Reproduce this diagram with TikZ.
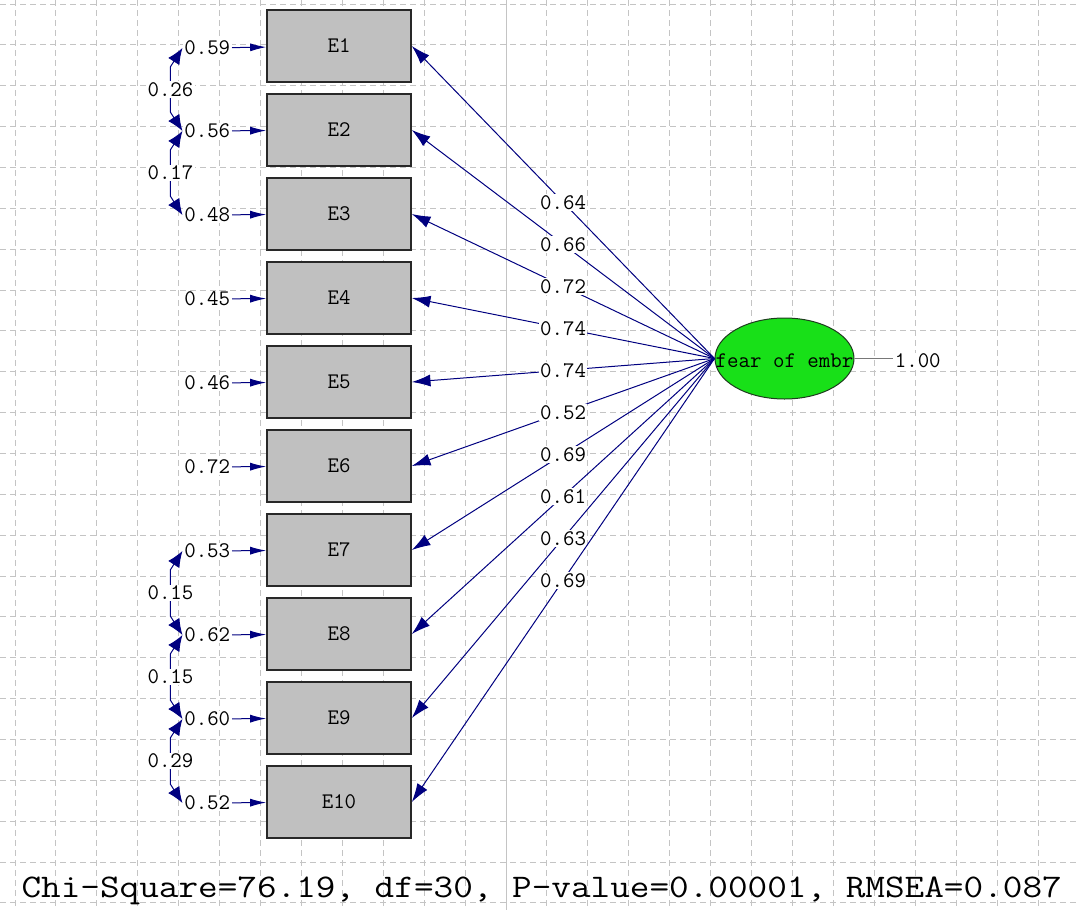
\documentclass[tikz,border=0pt]{standalone}
\usepackage{fontspec}
\usetikzlibrary{shapes.geometric,arrows.meta}

\definecolor{lisnavy}{RGB}{0,0,128}
\definecolor{boxgray}{RGB}{192,192,192}
\definecolor{latgreen}{RGB}{24,224,24}
\definecolor{gridgray}{RGB}{196,196,196}
\newcommand{\lisfont}{\ttfamily\fontsize{16.7}{18}\selectfont}

\tikzset{every picture/.style={line width=0.75pt},
  gridline/.style={draw=gridgray, dash pattern={on 4.5pt off 3pt}},
  obsbox/.style={draw={rgb,255:red,40;green,40;blue,40}, fill=boxgray, line width=1.2pt, minimum width=108pt, minimum height=54pt, inner sep=0pt, font=\lisfont},
  latent/.style={ellipse, draw={rgb,255:red,30;green,60;blue,30}, fill=latgreen, minimum width=104.25pt, minimum height=60.75pt, inner sep=0pt},
  coef/.style={fill=white, inner sep=1pt, font=\lisfont},
  load/.style={draw=lisnavy, -{Latex[length=14pt,width=9pt]}},
  errarr/.style={draw=lisnavy, -{Latex[length=12pt,width=6pt]}},
  covarr/.style={draw=lisnavy, {Latex[length=12pt,width=10pt]}-{Latex[length=12pt,width=10pt]}},
}

\begin{document}
\begin{tikzpicture}[x=0.75pt,y=0.75pt,yscale=-1,xscale=1]
\useasboundingbox (0,0) rectangle (1078,910);
\fill[white] (0,0) rectangle (1078,910);

%Grid
\foreach \k in {0,...,25} \draw[gridline] ({15+40.92*\k},0) -- ({15+40.92*\k},910);
\foreach \k in {0,...,22} \draw[gridline] (0,{4+40.86*\k}) -- (1078,{4+40.86*\k});
\draw[draw=gridgray] (506,0) -- (506,910);

%Observed variables
\node[obsbox] (E1) at (339,46) {E1};
\node[obsbox] (E2) at (339,130) {E2};
\node[obsbox] (E3) at (339,214) {E3};
\node[obsbox] (E4) at (339,298) {E4};
\node[obsbox] (E5) at (339,382) {E5};
\node[obsbox] (E6) at (339,466) {E6};
\node[obsbox] (E7) at (339,550) {E7};
\node[obsbox] (E8) at (339,634) {E8};
\node[obsbox] (E9) at (339,718) {E9};
\node[obsbox] (E10) at (339,802) {E10};

%Latent variable
\node[latent] (fear) at (784.5,358.5) {};
\node[font=\lisfont, inner sep=0pt] (fearname) at (784.5,361) {fear of embr};
\node[coef, anchor=west] (var) at (893,361) {1.00};
\draw[draw={rgb,255:red,120;green,120;blue,120}, line width=0.6pt] (fear.east) -- (fear.east -| var.west);

%Loadings
\draw[load] (fear.west) -- node[coef]{0.64} (E1.east);
\draw[load] (fear.west) -- node[coef]{0.66} (E2.east);
\draw[load] (fear.west) -- node[coef]{0.72} (E3.east);
\draw[load] (fear.west) -- node[coef]{0.74} (E4.east);
\draw[load] (fear.west) -- node[coef]{0.74} (E5.east);
\draw[load] (fear.west) -- node[coef]{0.52} (E6.east);
\draw[load] (fear.west) -- node[coef]{0.69} (E7.east);
\draw[load] (fear.west) -- node[coef]{0.61} (E8.east);
\draw[load] (fear.west) -- node[coef]{0.63} (E9.east);
\draw[load] (fear.west) -- node[coef]{0.69} (E10.east);

%Error variances
\node[coef, anchor=east] (d1) at (232,48) {0.59};
\node[coef, anchor=east] (d2) at (232,131) {0.56};
\node[coef, anchor=east] (d3) at (232,215) {0.48};
\node[coef, anchor=east] (d4) at (232,299) {0.45};
\node[coef, anchor=east] (d5) at (232,383) {0.46};
\node[coef, anchor=east] (d6) at (232,467) {0.72};
\node[coef, anchor=east] (d7) at (232,551) {0.53};
\node[coef, anchor=east] (d8) at (232,635) {0.62};
\node[coef, anchor=east] (d9) at (232,719) {0.60};
\node[coef, anchor=east] (d10) at (232,803) {0.52};
\draw[errarr] (d1) -- (E1);
\draw[errarr] (d2) -- (E2);
\draw[errarr] (d3) -- (E3);
\draw[errarr] (d4) -- (E4);
\draw[errarr] (d5) -- (E5);
\draw[errarr] (d6) -- (E6);
\draw[errarr] (d7) -- (E7);
\draw[errarr] (d8) -- (E8);
\draw[errarr] (d9) -- (E9);
\draw[errarr] (d10) -- (E10);

%Error covariances
\draw[covarr] (d1.west) -- ([xshift=-9pt,yshift=14pt]d1.west) -- node[coef]{0.26} ([xshift=-9pt,yshift=-14pt]d2.west) -- (d2.west);
\draw[covarr] (d2.west) -- ([xshift=-9pt,yshift=14pt]d2.west) -- node[coef]{0.17} ([xshift=-9pt,yshift=-14pt]d3.west) -- (d3.west);
\draw[covarr] (d7.west) -- ([xshift=-9pt,yshift=14pt]d7.west) -- node[coef]{0.15} ([xshift=-9pt,yshift=-14pt]d8.west) -- (d8.west);
\draw[covarr] (d8.west) -- ([xshift=-9pt,yshift=14pt]d8.west) -- node[coef]{0.15} ([xshift=-9pt,yshift=-14pt]d9.west) -- (d9.west);
\draw[covarr] (d9.west) -- ([xshift=-9pt,yshift=14pt]d9.west) -- node[coef]{0.29} ([xshift=-9pt,yshift=-14pt]d10.west) -- (d10.west);

% Text Node
\node[anchor=base west, inner sep=0pt, font=\ttfamily\fontsize{24.75}{28}\selectfont] (fit) at (21,897) {\scalebox{1.155}[1]{Chi-Square=76.19, df=30, P-value=0.00001, RMSEA=0.087}};

\end{tikzpicture}
\end{document}
